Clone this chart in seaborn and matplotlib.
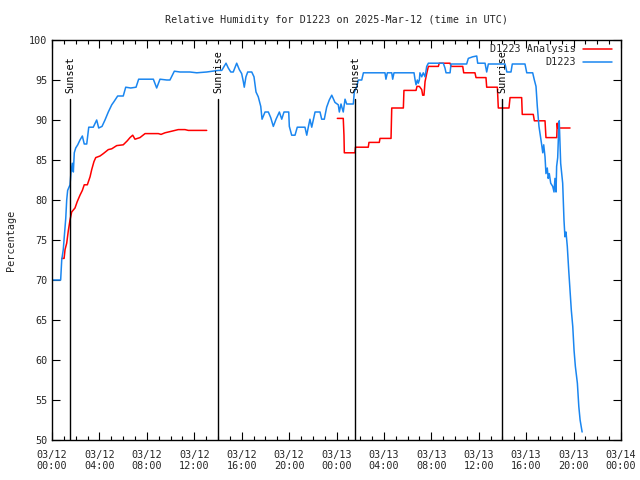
import matplotlib
matplotlib.use("Agg")
import matplotlib.pyplot as plt
import seaborn as sns
import pandas as pd
import numpy as np
from matplotlib.ticker import MultipleLocator
from matplotlib.lines import Line2D

# ---- data (hours since 03/12 00:00 UTC) ----
obs_hours = [0.03, 0.73, 0.82, 0.95, 1.04, 1.16, 1.24, 1.32, 1.52, 1.60, 1.71, 1.80, 1.88, 2.00, 2.17,
             2.36, 2.56, 2.72, 2.93, 3.10, 3.48, 3.77, 3.94, 4.22, 4.47, 4.75, 5.04, 5.23, 5.54, 6.01,
             6.22, 6.64, 7.09, 7.31, 8.55, 8.83, 9.11, 9.68, 9.95, 10.32, 10.80, 11.64, 12.21, 13.05,
             14.03, 14.32, 14.68, 14.87, 15.08, 15.29, 15.58, 15.80, 16.00, 16.14, 16.22, 16.36, 16.51,
             16.85, 17.04, 17.21, 17.40, 17.61, 17.72, 17.83, 17.97, 18.25, 18.45, 18.67, 18.90, 19.18,
             19.38, 19.57, 19.97, 20.02, 20.22, 20.50, 20.69, 21.34, 21.49, 21.62, 21.76, 21.91, 22.19,
             22.61, 22.75, 22.97, 23.17, 23.39, 23.60, 23.87, 24.15, 24.24, 24.38, 24.57, 24.72, 24.86,
             25.42, 25.50, 25.70, 25.84, 26.13, 26.27, 28.09, 28.17, 28.29, 28.66, 28.74, 28.85, 30.54,
             30.62, 30.71, 30.82, 30.90, 30.99, 31.04, 31.19, 31.32, 31.47, 31.61, 31.75, 33.01, 33.15,
             33.24, 33.58, 33.66, 34.98, 35.12, 35.49, 35.83, 35.91, 36.53, 36.67, 36.81, 38.22, 38.37,
             38.72, 38.83, 39.90, 40.05, 40.55, 40.69, 40.83, 40.94, 41.08, 41.17, 41.31, 41.40, 41.48,
             41.59, 41.67, 41.78, 41.86, 41.95, 42.07, 42.24, 42.35, 42.43, 42.52, 42.57, 42.66, 42.74,
             42.79, 42.91, 43.08, 43.19, 43.27, 43.36, 43.47, 43.59, 43.70, 43.81, 43.93, 44.04, 44.15,
             44.32, 44.44, 44.55, 44.72]
obs_rh = [70.0, 70.0, 72.5, 73.8, 75.4, 77.7, 80.0, 81.2, 81.9, 83.4, 84.6, 83.5, 85.9, 86.5, 86.9,
          87.5, 88.0, 87.0, 87.0, 89.1, 89.1, 90.0, 89.0, 89.2, 90.0, 91.0, 91.9, 92.3, 93.0, 93.0,
          94.1, 94.0, 94.1, 95.1, 95.1, 94.0, 95.1, 95.0, 95.0, 96.1, 96.0, 96.0, 95.9, 96.0,
          96.2, 96.2, 97.1, 96.5, 96.0, 96.0, 97.1, 96.3, 95.8, 94.8, 94.1, 95.4, 96.0,
          96.0, 95.4, 93.5, 92.9, 91.7, 90.1, 90.5, 91.0, 91.0, 90.3, 89.2, 90.1, 91.0,
          90.1, 91.0, 91.0, 89.2, 88.1, 88.1, 89.1, 89.1, 88.1, 89.1, 90.1, 89.1, 91.0,
          91.0, 90.1, 90.1, 91.6, 92.5, 93.1, 92.2, 91.9, 91.0, 92.0, 91.0, 92.6, 92.0,
          92.0, 93.5, 94.1, 95.0, 95.0, 95.9, 95.9, 95.1, 95.9, 95.9, 95.1, 95.9, 95.9,
          95.1, 94.4, 95.0, 94.6, 95.0, 95.9, 95.4, 95.9, 95.4, 96.7, 97.1, 97.1, 96.5,
          95.9, 95.9, 97.0, 97.0, 97.7, 97.9, 98.0, 97.1, 97.1, 96.0, 97.0, 97.0, 96.0,
          96.0, 97.0, 97.0, 95.9, 95.9, 95.0, 94.2, 91.7, 89.2, 88.3, 86.9, 85.9, 86.9,
          85.4, 83.3, 84.0, 82.7, 83.3, 82.1, 81.7, 81.0, 82.7, 81.0, 84.2, 85.3, 88.7,
          89.9, 84.6, 82.1, 77.5, 75.4, 76.0, 74.2, 71.2, 68.8, 66.2, 64.2, 61.2, 59.2,
          57.1, 54.2, 52.5, 51.0]

ana1_hours = [0.82, 1.02, 1.10, 1.24, 1.38, 1.52, 1.66, 1.94, 2.13, 2.36, 2.56, 2.72, 2.98, 3.21,
              3.35, 3.54, 3.69, 4.05, 4.33, 4.75, 5.04, 5.46, 6.01, 6.35, 6.58, 6.81, 7.00, 7.42,
              7.85, 8.97, 9.20, 9.53, 10.10, 10.65, 11.22, 11.50, 13.05]
ana1_rh = [72.7, 72.7, 73.8, 74.6, 76.2, 77.5, 78.5, 79.0, 79.8, 80.6, 81.2, 81.9, 81.9, 82.9,
           83.8, 84.8, 85.3, 85.5, 85.8, 86.3, 86.4, 86.8, 86.9, 87.4, 87.8, 88.1, 87.6, 87.8,
           88.3, 88.3, 88.2, 88.4, 88.6, 88.8, 88.8, 88.7, 88.7]

ana2_hours = [24.07, 24.57, 24.63, 24.66, 25.56, 25.60, 26.68, 26.74, 27.61, 27.67, 28.60, 28.66,
              29.64, 29.69, 30.71, 30.79, 30.99, 31.19, 31.27, 31.38, 31.47, 31.61, 31.75, 32.59,
              32.67, 33.58, 33.66, 34.65, 34.73, 35.68, 35.77, 36.61, 36.67, 37.57, 37.65, 38.55,
              38.64, 39.62, 39.67, 40.60, 40.69, 41.59, 41.67, 42.58, 42.62, 42.66, 43.70]
ana2_rh = [90.2, 90.2, 88.1, 85.9, 85.9, 86.6, 86.6, 87.2, 87.2, 87.7, 87.7, 91.5,
           91.5, 93.7, 93.7, 94.2, 94.2, 93.8, 93.1, 93.1, 94.8, 95.8, 96.7, 96.7,
           97.1, 97.1, 96.7, 96.7, 95.9, 95.9, 95.3, 95.3, 94.1, 94.1, 91.5, 91.5,
           92.8, 92.8, 90.7, 90.7, 89.9, 89.9, 87.8, 87.8, 89.6, 89.0, 89.0]

sun_events = ["Sunset", "Sunrise", "Sunset", "Sunrise"]
sun_hours = [1.52, 14.0, 25.56, 37.96]

tick_hours = [0, 4, 8, 12, 16, 20, 24, 28, 32, 36, 40, 44, 48]
tick_labels = ["03/12\n00:00", "03/12\n04:00", "03/12\n08:00", "03/12\n12:00", "03/12\n16:00",
               "03/12\n20:00", "03/13\n00:00", "03/13\n04:00", "03/13\n08:00", "03/13\n12:00",
               "03/13\n16:00", "03/13\n20:00", "03/14\n00:00"]

title = "Relative Humidity for D1223 on 2025-Mar-12 (time in UTC)"

# ---- plotting ----
sns.set_theme(style="white")
plt.rcParams['font.family'] = ['DejaVu Sans Mono', 'DejaVu Sans']
RED = "#ff0000"
BLUE = "#1a86f0"
FS = 7.3

fig = plt.figure(figsize=(6.4, 4.8), dpi=100)
ax = fig.add_axes([52/640, 40/480, 569/640, 400/480])

df_obs = pd.DataFrame({"hours": obs_hours, "rh": obs_rh})
df_a1 = pd.DataFrame({"hours": ana1_hours, "rh": ana1_rh})
df_a2 = pd.DataFrame({"hours": ana2_hours, "rh": ana2_rh})

sns.lineplot(data=df_a1, x="hours", y="rh", ax=ax, color=RED, lw=1.1, estimator=None, sort=False)
sns.lineplot(data=df_a2, x="hours", y="rh", ax=ax, color=RED, lw=1.1, estimator=None, sort=False)
sns.lineplot(data=df_obs, x="hours", y="rh", ax=ax, color=BLUE, lw=1.1, estimator=None, sort=False)

for name, h in zip(sun_events, sun_hours):
    ax.axvline(h, ymin=0, ymax=(92.6 - 50) / 50, color="black", lw=1)
    ax.text(h, 93.4, name, rotation=90, ha="center", va="bottom", fontsize=FS, color="black")

ax.set_xlim(0, 48)
ax.set_ylim(50, 100)
ax.set_xticks(tick_hours)
ax.set_xticklabels(tick_labels, fontsize=FS)
ax.xaxis.set_minor_locator(MultipleLocator(1))
ax.set_yticks(list(range(50, 101, 5)))
ax.tick_params(axis="y", labelsize=FS)
ax.tick_params(which="major", direction="in", length=6, width=0.8, top=True, right=True,
               bottom=True, left=True, color="black")
ax.tick_params(which="minor", direction="in", length=3, width=0.8, top=True, bottom=True,
               color="black")
ax.tick_params(axis="x", pad=7)
for s in ax.spines.values():
    s.set_color("black")
    s.set_linewidth(1)
ax.grid(False)
ax.set_xlabel("")
ax.set_ylabel("Percentage", fontsize=FS, labelpad=9)
ax.set_title(title, fontsize=FS, pad=12)

handles = [Line2D([0], [0], color=RED, lw=1.1), Line2D([0], [0], color=BLUE, lw=1.1)]
ax.legend(handles, ["D1223 Analysis", "D1223"], loc="upper right", frameon=False,
          markerfirst=False, fontsize=FS, handlelength=2.9, borderaxespad=0.0,
          labelspacing=0.3, handletextpad=0.7, bbox_to_anchor=(0.992, 1.0))

fig.savefig("out.png", dpi=100)
